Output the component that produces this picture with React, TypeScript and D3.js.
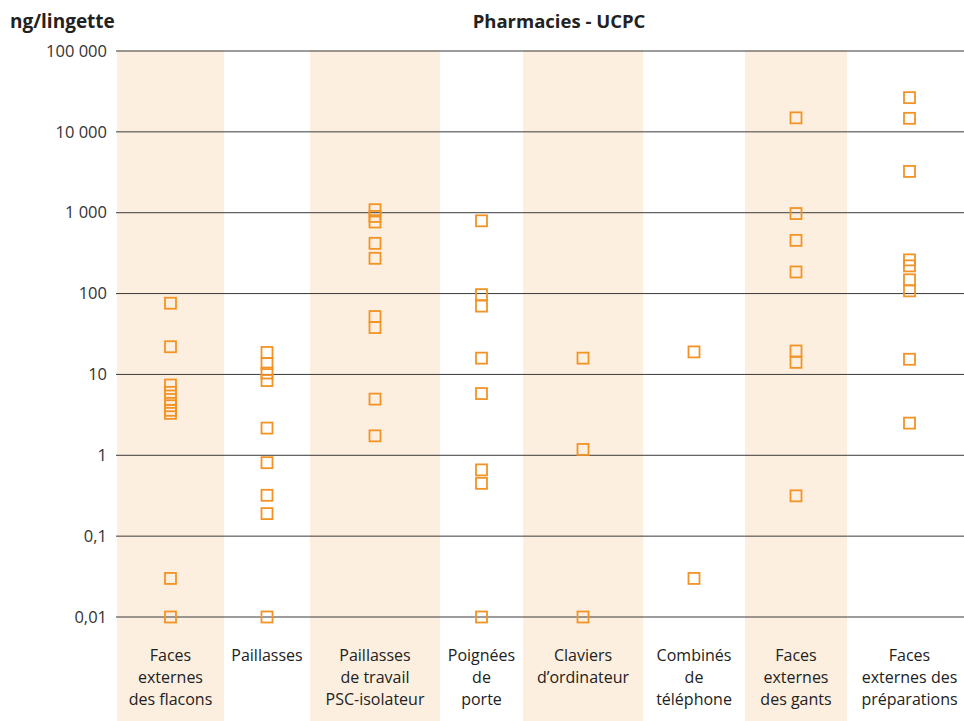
import React, { useEffect } from "react";
import { scaleLog, scaleOrdinal } from "d3";

// categories (x axis), one line per array entry
const categories = [
  ["Faces", "externes", "des flacons"],
  ["Paillasses"],
  ["Paillasses", "de travail", "PSC-isolateur"],
  ["Poignées", "de", "porte"],
  ["Claviers", "d’ordinateur"],
  ["Combinés", "de", "téléphone"],
  ["Faces", "externes", "des gants"],
  ["Faces", "externes des", "préparations"],
];

// measured values in ng/lingette, per category
const facesFlacons = [76, 22, 7.4, 6.0, 4.9, 4.1, 3.6, 3.3, 0.03, 0.01];
const paillasses = [18.7, 13.6, 10.4, 8.4, 2.17, 0.81, 0.32, 0.19, 0.01];
const paillassesPSC = [1090, 900, 767, 418, 273, 52, 38, 4.95, 1.74];
const poignees = [794, 97, 70, 15.9, 5.8, 0.66, 0.45, 0.01];
const claviers = [15.9, 1.18, 0.01];
const combines = [19, 0.03];
const facesGants = [14900, 977, 455, 185, 19.5, 14.1, 0.315];
const facesPreparations = [26500, 14700, 3240, 261, 220, 148, 108, 15.4, 2.5];

const series = [
  facesFlacons,
  paillasses,
  paillassesPSC,
  poignees,
  claviers,
  combines,
  facesGants,
  facesPreparations,
];

const tickValues = [100000, 10000, 1000, 100, 10, 1, 0.1, 0.01];
const tickLabels = ["100 000", "10 000", "1 000", "100", "10", "1", "0,1", "0,01"];

const title = "Pharmacies - UCPC";
const unit = "ng/lingette";

// layout
const width = 964;
const height = 721;
const plotLeft = 116;
const colEdges = [117, 224, 310, 440, 523, 643, 745, 847, 972];
const fontFamily = "'Open Sans', 'Noto Sans', sans-serif";
const orange = "#f39325";
const bandFill = "#fcefdf";
const markSize = 11;

export default function App() {
  useEffect(() => {
    document.body.style.margin = "0";
  }, []);

  const y = scaleLog().domain([0.01, 100000]).range([617, 51]);
  const idx = categories.map((_, i) => i);
  const xLeft = scaleOrdinal<number, number>().domain(idx).range(colEdges.slice(0, -1));
  const xRight = scaleOrdinal<number, number>().domain(idx).range(colEdges.slice(1));
  const xCenter = (i: number) => (xLeft(i) + xRight(i)) / 2;

  return (
    <svg width={width} height={height} style={{ display: "block" }} fontFamily={fontFamily}>
      {/* alternating bands */}
      {idx
        .filter((i) => i % 2 === 0)
        .map((i) => (
          <rect
            key={"band" + i}
            x={xLeft(i)}
            y={50}
            width={xRight(i) - xLeft(i)}
            height={height - 50}
            fill={bandFill}
          />
        ))}

      {/* gridlines + tick labels */}
      {tickValues.map((v, i) => (
        <g key={"tick" + v} transform={`translate(0,${y(v)})`}>
          <line x1={plotLeft} x2={width} stroke="#3a3a3a" strokeWidth={1} />
          <text x={107} dy="0.35em" textAnchor="end" fontSize={16.5} fill="#333">
            {tickLabels[i]}
          </text>
        </g>
      ))}

      {/* points */}
      {series.map((vals, i) =>
        vals.map((v, j) => (
          <rect
            key={`p${i}-${j}`}
            x={xCenter(i) - markSize / 2}
            y={y(v) - markSize / 2}
            width={markSize}
            height={markSize}
            fill="none"
            stroke={orange}
            strokeWidth={1.8}
          />
        ))
      )}

      {/* category labels */}
      {categories.map((lines, i) => (
        <text key={"cat" + i} x={xCenter(i)} textAnchor="middle" fontSize={16} fill="#222">
          {lines.map((l, k) => (
            <tspan key={k} x={xCenter(i)} y={661 + k * 22}>
              {l}
            </tspan>
          ))}
        </text>
      ))}

      <text x={10} y={28} fontSize={19} fontWeight="bold" fill="#222">
        {unit}
      </text>
      <text x={559} y={28} fontSize={18.5} fontWeight="bold" fill="#222" textAnchor="middle">
        {title}
      </text>
    </svg>
  );
}
